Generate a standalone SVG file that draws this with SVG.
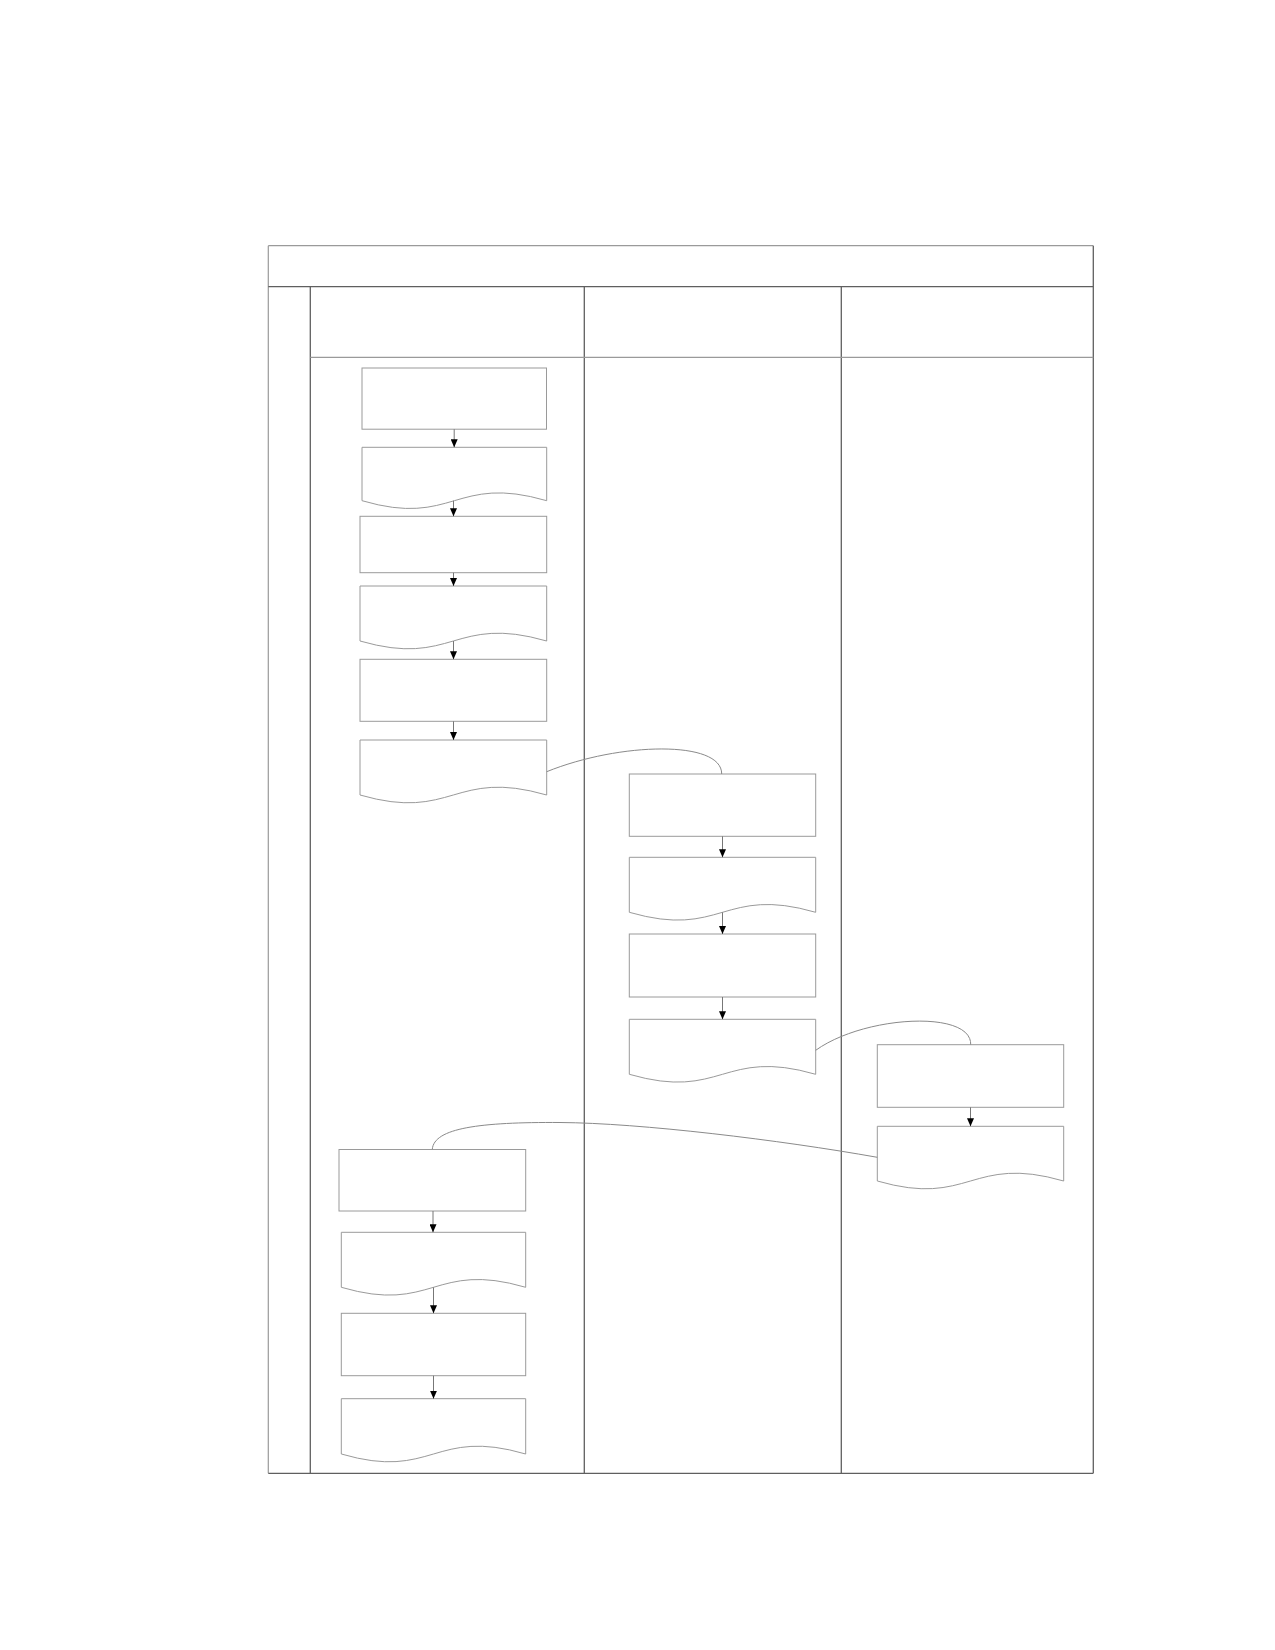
<svg xmlns="http://www.w3.org/2000/svg" width="1275" height="1650" viewBox="0 0 1275 1650">
<style>
.frame{fill:none;stroke:#5f5f5f;stroke-width:1.3}
.light{fill:none;stroke:#9a9a9a;stroke-width:1.2}
.box{fill:#fff;stroke:#9a9a9a;stroke-width:1}
.conn{fill:none;stroke:#8a8a8a;stroke-width:1}
.arrow{fill:none;stroke:#777;stroke-width:1;marker-end:url(#ah)}
</style>
<defs>
<marker id="ah" viewBox="0 0 8 7" refX="8" refY="3.5" markerWidth="8" markerHeight="7" orient="auto" markerUnits="userSpaceOnUse">
<path d="M0,0 L8,3.5 L0,7 Z" fill="#000"/>
</marker>
</defs>
<rect width="1275" height="1650" fill="#fff"/>
<g id="lanes">
<line class="light" x1="268.3" y1="245.7" x2="1093.3" y2="245.7"/>
<line class="light" x1="268.3" y1="245.7" x2="268.3" y2="1473.3"/>
<line class="frame" x1="268.3" y1="286.7" x2="1093.3" y2="286.7"/>
<line class="frame" x1="1093.3" y1="245.7" x2="1093.3" y2="1473.3"/>
<line class="frame" x1="268.3" y1="1473.3" x2="1093.3" y2="1473.3"/>
<line class="frame" x1="310.3" y1="286.7" x2="310.3" y2="1473.3"/>
<line class="frame" x1="584.3" y1="286.7" x2="584.3" y2="1473.3"/>
<line class="frame" x1="841.3" y1="286.7" x2="841.3" y2="1473.3"/>
<line class="light" x1="310.3" y1="357.3" x2="1093.3" y2="357.3"/>
</g>
<g id="n1"><rect class="box" x="362" y="368" width="184.5" height="61.2"/></g>
<g id="n2"><path class="box" d="M362,500.7 V447.3 H546.7 V500.7 C454.3,473.7 454.3,527.7 362,500.7 Z"/></g>
<g id="n3"><rect class="box" x="360" y="516.3" width="186.7" height="56.4"/></g>
<g id="n4"><path class="box" d="M360,641 V586 H546.7 V641 C453.3,614 453.3,668 360,641 Z"/></g>
<g id="n5"><rect class="box" x="360" y="659.3" width="186.7" height="62"/></g>
<g id="n6"><path class="box" d="M360,795 V740 H546.7 V795 C453.3,768 453.3,822 360,795 Z"/></g>
<g id="n7"><rect class="box" x="629.3" y="774" width="186.4" height="62.3"/></g>
<g id="n8"><path class="box" d="M629.3,912.3 V857.3 H815.7 V912.3 C722.5,885.3 722.5,939.3 629.3,912.3 Z"/></g>
<g id="n9"><rect class="box" x="629.3" y="934" width="186.4" height="63"/></g>
<g id="n10"><path class="box" d="M629.3,1074.3 V1019.3 H815.7 V1074.3 C722.5,1047.3 722.5,1101.3 629.3,1074.3 Z"/></g>
<g id="n11"><rect class="box" x="877.3" y="1044.7" width="186.4" height="62.6"/></g>
<g id="n12"><path class="box" d="M877.3,1181 V1126.3 H1063.7 V1181 C970.5,1154 970.5,1208 877.3,1181 Z"/></g>
<g id="n13"><rect class="box" x="339" y="1149.5" width="186.7" height="61.5"/></g>
<g id="n14"><path class="box" d="M341.3,1287.3 V1232.3 H525.7 V1287.3 C433.5,1260.3 433.5,1314.3 341.3,1287.3 Z"/></g>
<g id="n15"><rect class="box" x="341.3" y="1313.3" width="184.4" height="62.4"/></g>
<g id="n16"><path class="box" d="M341.3,1454 V1398.7 H525.7 V1454 C433.5,1427 433.5,1481 341.3,1454 Z"/></g>
<g id="connectors">
<line class="arrow" x1="454.2" y1="429.2" x2="454.2" y2="447.3"/>
<line class="arrow" x1="453.5" y1="500.7" x2="453.5" y2="516.3"/>
<line class="arrow" x1="453.5" y1="572.7" x2="453.5" y2="586"/>
<line class="arrow" x1="453.5" y1="641" x2="453.5" y2="659.3"/>
<line class="arrow" x1="453.5" y1="721.3" x2="453.5" y2="740"/>
<line class="arrow" x1="722.5" y1="836.3" x2="722.5" y2="857.3"/>
<line class="arrow" x1="722.5" y1="912.3" x2="722.5" y2="934"/>
<line class="arrow" x1="722.5" y1="997" x2="722.5" y2="1019.3"/>
<line class="arrow" x1="970.5" y1="1107.3" x2="970.5" y2="1126.3"/>
<line class="arrow" x1="433" y1="1211" x2="433" y2="1232.3"/>
<line class="arrow" x1="433.5" y1="1287.3" x2="433.5" y2="1313.3"/>
<line class="arrow" x1="433.5" y1="1375.7" x2="433.5" y2="1398.7"/>
<path class="conn" d="M546.7,771.7 C620,742 722,740 721.7,774"/>
<path class="conn" d="M815.7,1050.3 C865,1015 972,1010 970.7,1044.7"/>
<path class="conn" d="M432.3,1149.3 C434,1128 480,1122 560,1122.5 C640,1123 780,1140 877.3,1157.3"/>
</g>
</svg>
